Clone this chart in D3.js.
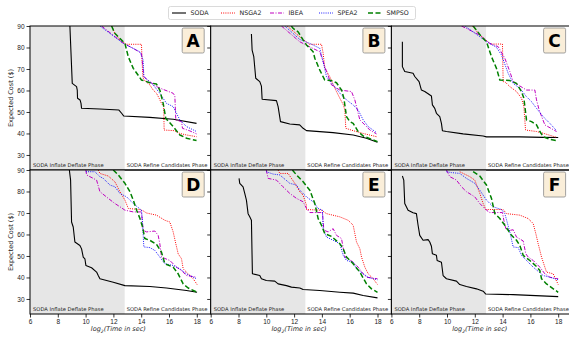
<!DOCTYPE html>
<html>
<head>
<meta charset="utf-8">
<script src="https://cdn.jsdelivr.net/npm/d3@7"></script>
<style>
  body { margin: 0; background: #fff; }
  svg { font-family: "DejaVu Sans", sans-serif; }
</style>
</head>
<body>
<div id="chart"></div>
<script>
const panelNames = ['A', 'B', 'C', 'D', 'E', 'F'];
const seriesNames = ['SODA', 'NSGA2', 'IBEA', 'SPEA2', 'SMPSO'];
const xTicks = [6, 8, 10, 12, 14, 16, 18];
const yTicks = [30, 40, 50, 60, 70, 80, 90];
const phaseSplit = 12.81; // log2(7200)

// [log2 time, cost] per panel A..F
const soda = [
  [[8.85,96],[8.87,90],[9.04,63.3],[9.35,61.8],[9.4,60.2],[9.42,56.4],[9.6,55.6],[9.67,54],[9.71,51.7],[11.03,51.4],[12.4,50.9],[12.59,49.4],[12.75,48.1],[14.62,47.5],[16.3,46.6],[17.98,44.7]],
  [[8.93,86.3],[8.98,78.8],[9.1,75.7],[9.24,65.7],[9.53,64.1],[9.65,62],[9.7,55.9],[10.73,55.3],[10.85,52.5],[11.02,45.5],[11.69,44.4],[12.4,44],[12.65,42.4],[12.89,41.3],[14.8,40.4],[16.25,39.3],[17.2,37.8],[18,35.9]],
  [[6.79,82.7],[6.79,71.1],[6.96,68.8],[7.56,68],[7.68,66.5],[7.99,64.1],[8.16,60.2],[8.4,59.5],[8.88,57.4],[8.95,53.3],[9.12,51.7],[9.24,49.4],[9.48,47.8],[9.6,44.7],[9.67,41.3],[9.96,40.9],[11.16,39.8],[12.6,38.8],[12.84,38.4],[15.24,38.4],[16.92,38.2],[18,38.1]],
  [[8.83,92],[8.83,90],[8.92,85.3],[8.99,65.8],[9.11,63.5],[9.23,56.5],[9.59,54.9],[9.71,53.3],[9.83,49.5],[9.95,48.7],[10.02,45.6],[10.43,44.5],[10.79,42.5],[10.91,40.9],[11.03,39.4],[11.99,37.8],[12.83,36.2],[14.62,35.8],[15.82,35.1],[17.26,33.9],[18.02,33.1]],
  [[8.04,86.1],[8.09,83.8],[8.33,82.2],[8.45,79.1],[8.57,76],[8.69,69.7],[8.81,68.2],[8.93,66.6],[9.0,41.7],[9.53,40.9],[9.65,39.4],[10.0,38.6],[10.61,38.3],[10.85,37],[11.45,36.2],[11.81,35.5],[12.41,35.1],[12.65,34.4],[13.85,33.9],[15.29,33.1],[16.25,32.7],[16.97,31.6],[18,30.5]],
  [[6.79,87.2],[6.89,85.3],[6.96,74.4],[7.2,71.3],[7.56,70.1],[7.8,69.7],[7.92,64.3],[8.04,59.6],[8.28,57.3],[8.64,57.6],[8.76,56.5],[8.88,54.5],[8.95,51],[9.24,50.3],[9.29,47.9],[9.6,47.1],[9.72,40.9],[9.96,39.4],[10.68,38.3],[10.92,36.7],[11.4,35.8],[12.12,34.7],[12.6,33.6],[12.79,32.3],[14.76,32],[18,31.1]]
];
const nsga2 = [
  [[11.87,92],[11.87,90],[12.1,86.6],[12.47,83.5],[12.83,81.9],[12.95,81.5],[14.02,81.5],[14.07,72.6],[14.12,66.4],[14.19,65],[14.62,62.6],[14.86,60.2],[15.1,58.7],[15.29,56.4],[15.46,54],[15.62,52.5],[15.65,41.6],[16.4,41.3],[16.78,40],[17.26,39.3],[17.98,38.5]],
  [[11.5,90],[12.4,85],[13.0,82],[13.1,81.5],[13.97,81.5],[14.09,77.3],[14.21,70.3],[14.57,66.4],[14.93,61],[15.29,56.4],[15.53,53.5],[15.65,50.9],[15.72,42.4],[16.25,41.3],[16.97,40],[17.93,38.5]],
  [[11.83,90],[12.36,85.8],[13.08,81.9],[13.15,81.6],[13.99,81.6],[14.04,64.1],[14.16,64.1],[14.52,61.8],[15.0,59.5],[15.36,56.4],[15.53,52.5],[15.65,41.6],[16.44,40.9],[16.92,40.1],[17.88,38.2]],
  [[10.91,90],[11.03,88.4],[11.63,87.2],[12.11,84.5],[12.47,79.9],[12.83,76],[13.07,72.1],[13.9,71.6],[14.14,71],[14.38,70],[15.1,69],[15.7,66.6],[16.06,65.8],[16.3,61.2],[16.49,55.7],[16.66,51],[16.9,48.7],[17.02,44],[17.38,41.7],[17.74,39.4],[18.02,36.7]],
  [[10.85,90],[10.97,88.4],[11.57,88.4],[12.05,83.8],[12.41,79.9],[12.65,78.3],[12.89,73.6],[12.89,71.6],[13.97,71.3],[14.33,69.7],[15.29,68.2],[15.89,66.6],[16.25,64.3],[16.37,60.4],[16.49,56.5],[16.73,53.4],[16.85,49.5],[17.09,44.8],[17.33,41.7],[17.69,39.4],[18,36.7]],
  [[10.92,89.2],[11.64,86.9],[12,85.3],[12.36,79.1],[12.6,74.4],[12.79,71.6],[14.04,71.6],[14.28,69.7],[15.24,69],[15.84,67.4],[16.2,65.1],[16.39,60.4],[16.56,55.7],[16.8,49.5],[17.04,44.8],[17.16,42.5],[17.64,41.7],[18,36.7]]
];
const ibea = [
  [[11.15,90],[12.7,82],[13.42,79.6],[14.02,77.3],[14.19,66.4],[14.62,64.1],[15.1,61.8],[15.58,60.5],[16.3,58.7],[16.42,57.5],[16.49,46.3],[16.9,45.5],[16.97,42.4],[17.5,41.2],[17.98,39.8]],
  [[11.09,90],[12.4,82.7],[13.0,80.7],[13.85,78],[14.21,71.1],[14.69,62.6],[15.29,60.2],[16.13,59.5],[16.37,55.6],[16.49,52.5],[16.73,46.3],[17.09,44],[17.45,41.6],[17.93,39.8]],
  [[11.04,90],[12.36,85.8],[13.08,81.9],[13.68,80.4],[14.16,75],[14.52,68.8],[14.76,64.1],[15.24,62.1],[15.72,60.2],[16.32,60.2],[16.44,55.6],[16.63,50.9],[17.04,44],[17.88,40.9]],
  [[10.02,90],[10.07,87.7],[10.55,86.1],[10.79,85.3],[11.03,79.9],[11.63,76.8],[12.11,74.4],[12.47,72.9],[12.83,71.3],[13.43,70.5],[14.02,70.5],[14.14,62],[14.38,61.2],[14.98,61.6],[15.22,59.6],[15.34,55.7],[15.46,49.5],[16.06,47.9],[16.54,44.8],[16.9,43.2],[17.26,40.9],[17.98,40.1]],
  [[10.0,90],[10.13,86.1],[10.73,85.3],[11.2,82.2],[11.69,79.1],[12.17,76.8],[12.65,75.2],[12.89,72.1],[13.13,70.2],[14.04,70.2],[14.14,62],[14.45,61.2],[14.81,62.7],[15.05,59.6],[15.41,58.1],[15.65,49.5],[15.89,48.7],[16.25,47.1],[16.61,44.8],[16.97,41.7],[17.21,40.1],[18,39.4]],
  [[9.96,90],[10.2,86.9],[10.68,85.3],[11.04,82.2],[11.4,79.9],[12,77.5],[12.36,74.4],[12.84,71.3],[13.08,70.2],[13.99,70.2],[14.09,66.6],[14.23,62.7],[14.52,61.9],[14.76,62.2],[15.0,58.8],[15.48,57],[15.67,51],[15.84,49.5],[16.2,47.9],[16.68,44.8],[17.04,41.7],[17.4,40.1],[18,39.4]]
];
const spea2 = [
  [[11.03,90],[12.7,82],[13.42,79.6],[13.9,78],[14.14,74.2],[14.19,66.4],[14.86,62.6],[15.34,58.7],[15.82,54],[16.3,52.5],[16.54,49.4],[16.78,46.3],[17.26,43.2],[17.98,40.9]],
  [[11.33,90],[12.4,83.8],[13.13,81.9],[13.85,79.6],[14.09,73.4],[14.33,66.4],[14.81,62.6],[15.29,58.7],[15.77,55.6],[16.25,53.3],[16.61,50.9],[16.97,46.3],[17.33,43.2],[17.93,40.4]],
  [[11.28,90],[12.36,85],[12.84,82.7],[13.56,80.1],[13.92,76.5],[14.4,68],[14.76,63.3],[15.24,61],[15.72,57.1],[16.08,54.8],[16.44,51.7],[16.92,47.8],[17.4,44.7],[17.88,41.3]],
  [[10.02,89.2],[10.67,89.2],[11.03,86.9],[11.27,86.1],[11.75,83],[12.11,82.2],[12.47,79.1],[12.95,77.5],[13.43,74.4],[14.02,71.3],[14.1,65.1],[14.19,54.2],[14.62,53.9],[14.98,52.6],[15.34,49.5],[15.7,46.4],[16.3,45.6],[16.78,44],[17.26,41.7],[17.98,39.4]],
  [[10.0,89.2],[10.49,88.1],[10.97,87.7],[11.69,83.8],[12.17,83],[12.41,80.6],[12.89,77.5],[13.37,75.2],[13.73,72.1],[14.04,71.3],[14.09,62.7],[14.33,58.8],[14.81,57.3],[15.29,55.7],[15.53,50.3],[15.77,47.9],[16.25,47.1],[16.49,44],[16.97,41.7],[17.33,40.1],[18,38.9]],
  [[9.96,89.2],[10.32,88.8],[10.92,88.4],[11.4,86.1],[12,83.8],[12.36,80.6],[12.84,76],[13.32,72.9],[13.92,71.6],[14.16,69.7],[14.52,61.2],[14.76,54.2],[15.12,53.9],[15.36,50.3],[15.72,47.9],[16.2,44.8],[16.92,40.9],[17.4,40.1],[18,38.9]]
];
const smpso = [
  [[11.87,90],[12.1,86.6],[12.83,81.9],[13.07,75.7],[13.43,70.3],[14.02,64.9],[14.62,63.6],[15.1,63],[15.34,60.2],[15.58,54],[15.77,47],[16.3,43.2],[16.78,39.3],[17.26,37.8],[17.98,36.7]],
  [[11.8,90],[11.93,88.9],[12.29,87.3],[12.65,83.5],[12.89,81.2],[13.37,78],[13.49,75],[13.85,69.5],[14.2,64.9],[14.69,64.6],[15.05,63.6],[15.41,60.2],[15.58,56.4],[15.77,47.8],[16.01,45.5],[16.25,44.7],[16.61,40.9],[16.97,38.8],[18,36.2]],
  [[11.88,90],[12.12,88.1],[12.48,85],[12.84,82.7],[13.2,75.7],[13.56,70.3],[13.8,64.9],[14.52,64.6],[15,63.3],[15.36,59.5],[15.53,56.4],[15.72,46.3],[16.08,45.5],[16.44,44],[16.68,40.9],[16.92,38.5],[17.4,37.3],[17.88,36.7]],
  [[11.99,90],[12.35,87.7],[12.83,83.8],[13.19,79.9],[13.43,76],[13.67,71.3],[13.91,67.4],[14.1,63.5],[14.26,58.1],[14.62,57.3],[15.1,55.4],[15.46,51.8],[15.7,46.4],[16.3,44.8],[16.66,41.7],[17.02,37],[17.38,35.1],[18.02,33.1]],
  [[11.88,90],[12.17,87.7],[12.65,84.5],[13.13,80.6],[13.49,74.4],[13.73,67.4],[13.97,64.3],[14.21,60.4],[14.69,59.1],[15.29,55.7],[15.53,53.4],[15.77,49.5],[16.25,46.4],[16.73,42.5],[17.21,37],[17.57,34.7],[18,33.1]],
  [[11.88,89.2],[12.36,87.2],[12.84,83],[13.2,76.8],[13.44,69.7],[13.8,67.4],[14.16,64.3],[14.64,59.6],[15,57.3],[15.24,54.9],[15.48,50.3],[15.96,47.9],[16.44,45.1],[16.68,43.2],[16.8,39.4],[17.16,37],[18,33.1]]
];

const seriesData = [soda, nsga2, ibea, spea2, smpso];
const styles = [
  { color: '#000000', width: 1.1, dash: null },
  { color: '#ff0000', width: 1, dash: '1,1.2' },
  { color: '#bf00bf', width: 1, dash: '4,1.5,1,1.5' },
  { color: '#0000ff', width: 0.9, dash: '1,1.2' },
  { color: '#008000', width: 1.5, dash: '5,2.5' }
];

const W = 569, H = 338;
const cols = [30, 210.7, 391.4], pw = 180.7;
const rows = [26, 170], ph = 144;

const svg = d3.select('#chart').append('svg').attr('width', W).attr('height', H);

panelNames.forEach((name, i) => {
  const c = i % 3, r = Math.floor(i / 3);
  const left = cols[c], top = rows[r];
  const x = d3.scaleLinear().domain([6, 19]).range([left, left + pw]);
  const y = d3.scaleLinear().domain([23, 90]).range([top + ph, top]);
  const g = svg.append('g');

  const clipId = 'clip' + name;
  g.append('clipPath').attr('id', clipId).append('rect')
    .attr('x', left).attr('y', top).attr('width', pw).attr('height', ph);

  // shaded inflate/deflate phase
  g.append('rect')
    .attr('x', x(6)).attr('y', top)
    .attr('width', x(phaseSplit) - x(6)).attr('height', ph)
    .attr('fill', '#e6e6e6');

  const line = d3.line().x(d => x(d[0])).y(d => y(d[1]));
  const lines = g.append('g').attr('clip-path', `url(#${clipId})`);
  // draw order: SODA, then others
  seriesData.forEach((s, k) => {
    lines.append('path')
      .attr('d', line(s[i]))
      .attr('fill', 'none')
      .attr('stroke', styles[k].color)
      .attr('stroke-width', styles[k].width)
      .attr('stroke-dasharray', styles[k].dash)
      .attr('stroke-linejoin', 'round');
  });

  // phase labels
  g.append('text').attr('x', left + 3).attr('y', top + ph - 3)
    .attr('font-size', 5.2).attr('fill', '#222').text('SODA Inflate Deflate Phase');
  g.append('text').attr('x', x(phaseSplit) + 2).attr('y', top + ph - 3)
    .attr('font-size', 5.2).attr('fill', '#222').text('SODA Refine Candidates Phase');

  // y axis
  const yAxis = d3.axisLeft(y).tickValues(yTicks).tickSize(3.5).tickPadding(2)
    .tickFormat(c === 0 ? d3.format('d') : () => '');
  const ya = g.append('g').attr('transform', `translate(${left},0)`).call(yAxis);
  ya.select('.domain').remove();
  ya.selectAll('text').attr('font-size', 6.5).attr('fill', '#222');
  ya.selectAll('line').attr('stroke', '#000').attr('stroke-width', 0.8);

  if (r === 1) {
    const xAxis = d3.axisBottom(x).tickValues(xTicks).tickSize(3.5).tickPadding(2)
      .tickFormat(d3.format('d'));
    const xa = g.append('g').attr('transform', `translate(0,${top + ph})`).call(xAxis);
    xa.select('.domain').remove();
    xa.selectAll('text').attr('font-size', 6.5).attr('fill', '#222');
    xa.selectAll('line').attr('stroke', '#000').attr('stroke-width', 0.8);

    const xl = g.append('text')
      .attr('x', left + pw / 2 - 2).attr('y', 331)
      .attr('text-anchor', 'middle').attr('font-size', 6.5)
      .attr('font-style', 'italic').attr('fill', '#222');
    xl.append('tspan').text('log');
    xl.append('tspan').attr('font-size', 4.5).attr('dy', 1.5).text('2');
    xl.append('tspan').attr('dy', -1.5).text('(Time in sec)');
  }

  if (c === 0) {
    g.append('text')
      .attr('transform', `translate(13,${top + ph / 2}) rotate(-90)`)
      .attr('text-anchor', 'middle').attr('font-size', 6.5).attr('fill', '#222')
      .text('Expected Cost ($)');
  }

  // frame
  g.append('rect').attr('x', left).attr('y', top).attr('width', pw).attr('height', ph)
    .attr('fill', 'none').attr('stroke', '#000').attr('stroke-width', 1);

  // panel letter
  const bx = left + pw - 28.5, by = top + 2;
  g.append('rect').attr('x', bx).attr('y', by).attr('width', 22).attr('height', 25)
    .attr('rx', 1.5).attr('fill', '#faeed9').attr('stroke', '#8c8c8c').attr('stroke-width', 0.8);
  g.append('text').attr('x', bx + 11).attr('y', by + 18.5)
    .attr('text-anchor', 'middle').attr('font-size', 17).attr('font-weight', 'bold')
    .attr('fill', '#000').text(name);
});

// legend
const lg = svg.append('g');
lg.append('rect').attr('x', 168.5).attr('y', 6.5).attr('width', 247).attr('height', 13)
  .attr('rx', 2).attr('fill', '#fff').attr('stroke', '#d0d0d0').attr('stroke-width', 0.8);
const legendX = [172, 221, 270, 319, 368];
seriesNames.forEach((s, k) => {
  lg.append('line').attr('x1', legendX[k]).attr('x2', legendX[k] + 14)
    .attr('y1', 13).attr('y2', 13)
    .attr('stroke', styles[k].color).attr('stroke-width', styles[k].width)
    .attr('stroke-dasharray', styles[k].dash);
  lg.append('text').attr('x', legendX[k] + 18.5).attr('y', 15.3)
    .attr('font-size', 6.3).attr('fill', '#222').text(s);
});
</script>
</body>
</html>
